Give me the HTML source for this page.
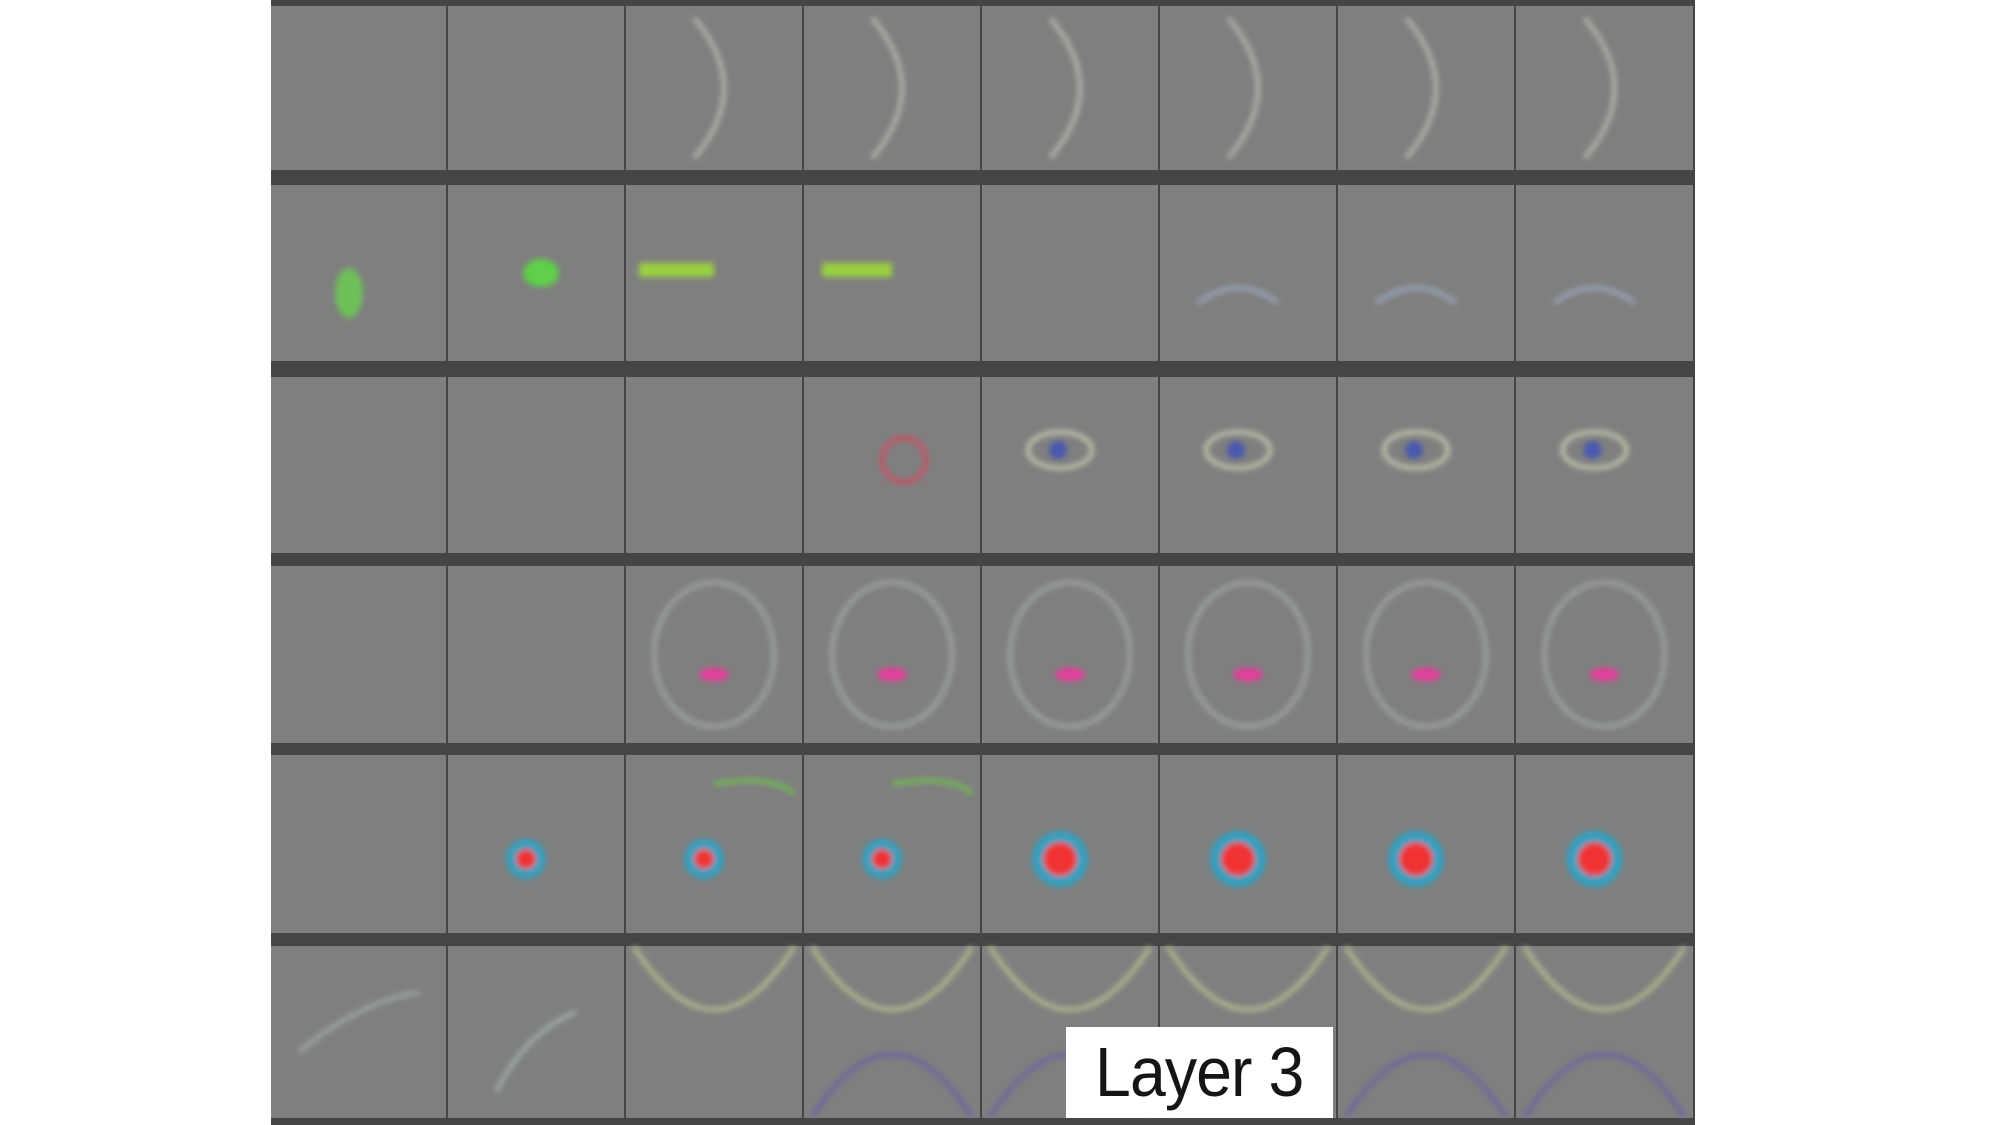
<!DOCTYPE html>
<html><head><meta charset="utf-8"><style>
html,body{margin:0;padding:0;background:#fff;width:2000px;height:1125px;overflow:hidden}
svg{position:absolute;left:0;top:0}
#label{position:absolute;left:1066px;top:1027px;width:267px;height:91px;background:#fff;font-family:"Liberation Sans",sans-serif;font-size:70px;color:#151515;line-height:91px;text-align:center;letter-spacing:-1px}
#label span{display:inline-block;transform:scaleX(0.92)}
</style></head><body>
<svg width="2000" height="1125">
<defs>
<filter id="b" x="-50%" y="-50%" width="200%" height="200%"><feGaussianBlur stdDeviation="3"/></filter>
</defs>
<rect x="271" y="0" width="1424" height="1125" fill="#454545"/>
<g id="cells"></g>
<g id="feat" fill="none" stroke-width="4" filter="url(#b)"></g>
</svg>
<div id="label"><span>Layer 3</span></div>
<script>
const colEdges=[271,447,625,803,981,1159,1337,1515,1694];
const rowTops=[6,185,377,566,755,946];
const rowBots=[170,361,553,743,933,1118];
const ns='http://www.w3.org/2000/svg';
const cells=document.getElementById('cells');
for(let r=0;r<6;r++){for(let c=0;c<8;c++){
  const x=colEdges[c]+(c?1:0), w=colEdges[c+1]-x-1;
  const e=document.createElementNS(ns,'rect');
  e.setAttribute('x',x);e.setAttribute('y',rowTops[r]);
  e.setAttribute('width',w);e.setAttribute('height',rowBots[r]-rowTops[r]);
  e.setAttribute('fill','#7f7f7f');
  
  
  cells.appendChild(e);
}}
const f=document.getElementById('feat');
function add(tag,attrs){const e=document.createElementNS(ns,tag);for(const k in attrs)e.setAttribute(k,attrs[k]);


f.appendChild(e);}
const cx=c=>(colEdges[c]+colEdges[c+1])/2, cy=r=>(rowTops[r]+rowBots[r])/2;
for(let c=2;c<8;c++){add('path',{d:`M${cx(c)-20} ${cy(0)-70} Q${cx(c)+40} ${cy(0)} ${cx(c)-20} ${cy(0)+70}`,stroke:'#b8b8b0'});}
add('ellipse',{cx:cx(0)-10,cy:cy(1)+20,rx:14,ry:25,fill:'#6fc05a',stroke:'none'});
add('ellipse',{cx:cx(1)+5,cy:cy(1),rx:18,ry:14,fill:'#5fd04a',stroke:'none'});
add('rect',{x:cx(2)-75,y:cy(1)-10,width:75,height:14,fill:'#9ad040',stroke:'none'});
add('rect',{x:cx(3)-70,y:cy(1)-10,width:70,height:14,fill:'#9ad040',stroke:'none'});
for(let c=5;c<8;c++)add('path',{d:`M${cx(c)-50} ${cy(1)+30} q40 -30 80 0`,stroke:'#9aa8c0'});
add('circle',{cx:cx(3)+12,cy:cy(2)-5,r:22,stroke:'#d05060'});
for(let c=4;c<8;c++){add('ellipse',{cx:cx(c)-10,cy:cy(2)-15,rx:32,ry:18,stroke:'#c8c8b0'});add('circle',{cx:cx(c)-12,cy:cy(2)-15,r:9,fill:'#4858b0',stroke:'none'});}
for(let c=2;c<8;c++){add('ellipse',{cx:cx(c),cy:cy(3),rx:60,ry:72,stroke:'#a0a8a0'});add('ellipse',{cx:cx(c),cy:cy(3)+20,rx:15,ry:7,fill:'#e0409a',stroke:'none'});}
for(let c=1;c<8;c++){add('circle',{cx:cx(c)-10,cy:cy(4)+15,r:c<4?20:28,fill:'#30a0c0',stroke:'none'});add('circle',{cx:cx(c)-10,cy:cy(4)+15,r:c<4?10:17,fill:'#f03030',stroke:'none'});}
add('path',{d:`M${cx(2)} ${cy(4)-60} q60 -10 80 10`,stroke:'#70c050'});
add('path',{d:`M${cx(3)} ${cy(4)-60} q60 -10 80 10`,stroke:'#70c050'});
for(let c=2;c<8;c++){add('path',{d:`M${cx(c)-80} ${cy(5)-85} Q${cx(c)} ${cy(5)+40} ${cx(c)+80} ${cy(5)-85}`,stroke:'#b8c090'});
if(c>2)add('path',{d:`M${cx(c)-80} ${cy(5)+85} Q${cx(c)} ${cy(5)-40} ${cx(c)+80} ${cy(5)+85}`,stroke:'#7060a0'});}
add('path',{d:`M${cx(0)-60} ${cy(5)+20} q60 -50 120 -60`,stroke:'#a0a8a8'});
add('path',{d:`M${cx(1)-40} ${cy(5)+60} q30 -60 80 -80`,stroke:'#a0b0b0'});
</script>
</body></html>
